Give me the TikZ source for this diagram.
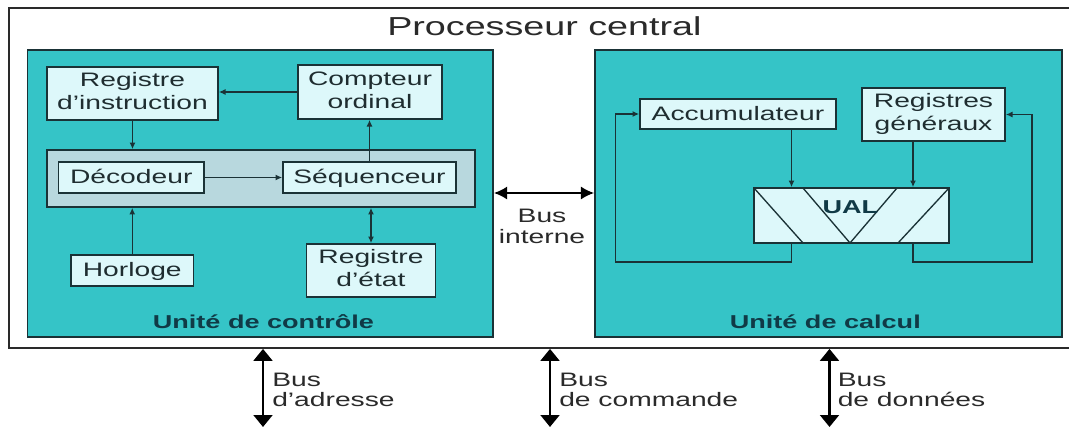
\documentclass[tikz,border=0pt]{standalone}
\usepackage{fontspec}
\setmainfont{Liberation Sans}
\usepackage{graphicx}
\usetikzlibrary{arrows.meta}
\definecolor{teal1}{HTML}{35C4C7}
\definecolor{boxf}{HTML}{DDF8FA}
\definecolor{grpf}{HTML}{B8D8DE}
\definecolor{linec}{HTML}{1A3236}
\definecolor{txtc}{HTML}{1F2D30}
\definecolor{lblc}{HTML}{103A46}
\definecolor{ttlc}{HTML}{2A2A2A}
\newcommand\sx[1]{\scalebox{1.45}[1]{#1}}
\newcommand\twol[2]{\sx{\begin{tabular}{@{}c@{}}#1\\#2\end{tabular}}}
\newcommand\onel[1]{\sx{\raisebox{0pt}[12pt][2.5pt]{#1}}}
\tikzset{
  px/.style={x=0.75pt,y=-0.75pt},
  sz/.style 2 args={minimum width=#1*0.75pt, minimum height=#2*0.75pt},
  outerbox/.style={draw=ttlc, line width=1.3pt, inner sep=0pt},
  panel/.style={draw=linec, fill=teal1, line width=1.3pt, inner sep=0pt},
  grpbox/.style={draw=linec, fill=grpf, line width=1.2pt, inner sep=0pt},
  boxn/.style={draw=linec, fill=boxf, line width=1.25pt, inner sep=0pt, text=txtc,
    font=\fontsize{14.6}{17.5}\selectfont},
  ttl/.style={inner sep=0pt, text=ttlc, font=\fontsize{19.5}{23}\selectfont},
  lbl/.style={inner sep=0pt, text=lblc, font=\fontsize{14}{17}\selectfont\bfseries},
  bustxt/.style={inner sep=0pt, text=ttlc},
  conn/.style={draw=linec, line width=1pt, -{Latex[length=5pt,width=4.5pt]}},
  conn2/.style={draw=linec, line width=1pt, {Latex[length=5pt,width=4.5pt]}-{Latex[length=5pt,width=4.5pt]}},
  ualline/.style={draw=linec, line width=1pt},
  busi/.style={draw=black, line width=1.6pt, {Latex[length=10pt,width=10pt]}-{Latex[length=10pt,width=10pt]}},
  busb/.style={draw=black, line width=2.2pt, {Triangle[length=9pt,width=14pt]}-{Triangle[length=9pt,width=14pt]}}
}
\begin{document}
\begin{tikzpicture}[px]
\useasboundingbox (0,0) rectangle (1069,428);
\fill[white] (0,0) rectangle (1069,428);
\node[outerbox, sz={1063}{340}] (outer) at (540.5,178) {};
\node[ttl, anchor=base] (title) at (544.4,35.7) {\sx{Processeur central}};

\node[panel, sz={465.5}{287}] (ctrl) at (260.25,193.5) {};
\node[panel, sz={467}{287}] (calc) at (828.5,193.5) {};
\node[grpbox, sz={428}{57}] (grp) at (261,178.5) {};

\node[boxn, sz={171}{53}] (regi) at (132.5,93.5) {\twol{Registre}{d’instruction}};
\node[boxn, sz={144}{54}] (comp) at (370,92) {\twol{Compteur}{ordinal}};
\node[boxn, sz={145.5}{31}] (deco) at (131.25,177.5) {\onel{Décodeur}};
\node[boxn, sz={173}{31}] (seq) at (369.5,177.5) {\onel{Séquenceur}};
\node[boxn, sz={122.5}{31}] (horl) at (132.25,270.5) {\onel{Horloge}};
\node[boxn, sz={129}{53}] (rete) at (371,270.5) {\twol{Registre}{d’état}};

\node[boxn, sz={196}{30}] (acc) at (738,114) {\onel{Accumulateur}};
\node[boxn, sz={143}{53}] (rg) at (933.5,114.5) {\twol{Registres}{généraux}};
\node[boxn, sz={195}{55}] (ual) at (851.5,215.5) {};
\draw[ualline] (754,188) -- (803,243);
\draw[ualline] (803,188) -- (850,243) -- (897,188);
\draw[ualline] (898,243) -- (949,188);
\node[lbl, anchor=base] (ualt) at (850.3,213) {\sx{UAL}};

\node[lbl, anchor=base] (ctlt) at (263.4,328.3) {\sx{Unité de contrôle}};
\node[lbl, anchor=base] (calt) at (825.3,328.3) {\sx{Unité de calcul}};

% control unit connectors
\draw[conn] (comp.west) -- (comp.west -| regi.east);
\draw[conn] (regi.south) -- (regi.south |- grp.north);
\draw[conn] (seq.north) -- (seq.north |- comp.south);
\draw[conn] (deco.east) -- (seq.west);
\draw[conn] (horl.north) -- (horl.north |- grp.south);
\draw[conn2] (rete.north) -- (rete.north |- grp.south);

% calc unit connectors
\coordinate (xa) at (791.5,262);
\coordinate (xb) at (913,262);
\coordinate (fl) at (615.5,262);
\coordinate (fr) at (1032,262);
\draw[conn] (acc.south -| xa) -- (ual.north -| xa);
\draw[conn] (rg.south -| xb) -- (ual.north -| xb);
\draw[conn] (ual.south -| xa) -- (xa) -- (fl) |- (acc.west);
\draw[conn] (ual.south -| xb) -- (xb) -- (fr) |- (rg.east);

% internal bus
\coordinate (bi) at (543,193);
\draw[busi] (ctrl.east |- bi) -- (calc.west |- bi);
\node[bustxt, font=\fontsize{14.6}{15.75}\selectfont] (bit) at (542,228.3)
  {\sx{\begin{tabular}{@{}c@{}}Bus\\interne\end{tabular}}};

% external buses
\coordinate (ba) at (263,427);
\coordinate (bc) at (550,427);
\coordinate (bd) at (829.5,427);
\draw[busb] (outer.south -| ba) -- (ba);
\draw[busb] (outer.south -| bc) -- (bc);
\draw[busb] (outer.south -| bd) -- (bd);
\node[bustxt, anchor=west, font=\fontsize{14.6}{15}\selectfont] (bat) at (272,392.7)
  {\sx{\begin{tabular}{@{}l@{}}Bus\\d’adresse\end{tabular}}};
\node[bustxt, anchor=west, font=\fontsize{14.6}{15}\selectfont] (bct) at (559,392.7)
  {\sx{\begin{tabular}{@{}l@{}}Bus\\de commande\end{tabular}}};
\node[bustxt, anchor=west, font=\fontsize{14.6}{15}\selectfont] (bdt) at (837.5,392.7)
  {\sx{\begin{tabular}{@{}l@{}}Bus\\de données\end{tabular}}};
\end{tikzpicture}
\end{document}
